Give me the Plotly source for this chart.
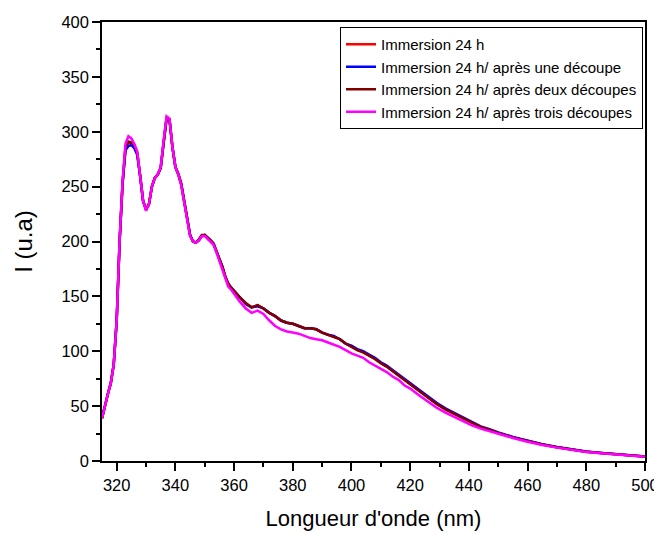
import plotly.graph_objects as go

wavelength = [315, 316, 317, 318, 319, 320, 321, 322, 323, 324, 325, 326, 327, 328, 329,
              330, 331, 332, 333, 334, 335, 336, 337, 338, 339, 340, 341, 342, 343, 344,
              345, 346, 347, 348, 349, 350, 351, 352, 353, 354, 355, 356, 357, 358, 359,
              360, 362, 364, 366, 368, 370, 372, 374, 376, 378, 380, 382, 384, 386, 388,
              390, 392, 394, 396, 398, 400, 402, 404, 406, 408, 410, 412, 414, 416, 418,
              420, 423, 426, 429, 432, 435, 438, 441, 444, 447, 450, 455, 460, 465, 470,
              475, 480, 485, 490, 495, 500]

immersion_24h = [39, 51, 61, 71, 88, 128, 200, 253, 285, 290, 290, 287, 280, 260, 237,
                 229, 234, 250, 258, 261, 267, 290, 312, 311, 286, 268, 261, 252, 236, 222,
                 206, 200, 199, 201, 205, 206, 203, 201, 198, 191, 184, 177, 168, 161, 158,
                 155, 149, 143, 140, 142, 139, 135, 132, 128, 126, 125, 123, 121, 121, 120,
                 117, 115, 113, 111, 107, 104, 101, 99, 96, 93, 89, 86, 82, 78, 74,
                 70, 64, 58, 52, 47, 43, 39, 35, 31, 28.5, 25.5, 21.5, 18, 15, 12.5,
                 10.2, 8.5, 7.2, 6, 5, 4]

une_decoupe = [39, 51, 61, 71, 88, 128, 200, 252, 283, 287, 288, 285, 279, 259, 237,
               229, 234, 250, 258, 261, 267, 290, 312, 311, 286, 268, 261, 252, 236, 222,
               206, 200, 199, 201, 205, 206, 203, 201, 198, 191, 184, 177, 168, 161, 158,
               155, 149, 143, 140, 141, 139, 135, 132, 128, 126, 125, 123, 121, 121, 120,
               117, 115, 114, 111, 107, 105, 102, 100, 97, 94, 90, 87, 83, 79, 75,
               71, 65, 59, 53, 48, 44, 39.5, 35.5, 31.5, 29, 26, 22, 18.3, 15.2, 12.7,
               10.4, 8.6, 7.3, 6.1, 5, 4]

deux_decoupes = [39, 51, 61, 71, 88, 128, 200, 253, 286, 291, 290, 288, 281, 260, 237,
                 229, 234, 250, 258, 261, 267, 290, 312, 311, 286, 268, 262, 253, 237, 222,
                 206, 200, 199, 202, 206, 206, 203, 201, 198, 191, 184, 177, 168, 162, 158,
                 155, 149, 144, 140, 142, 139, 135, 132, 128, 126, 125, 123, 121, 121, 120,
                 117, 115, 113, 111, 107, 104, 101, 99, 96, 93, 89, 86, 82, 78, 74,
                 70, 64, 58, 52, 47, 43, 39, 35, 31, 28.5, 25.5, 21.5, 18, 15, 12.5,
                 10.2, 8.5, 7.2, 6, 5, 4]

trois_decoupes = [39, 51, 61, 71, 88, 128, 201, 255, 289, 296, 294, 289, 282, 260, 237,
                  228, 234, 250, 258, 261, 268, 292, 314, 312, 286, 268, 261, 251, 235, 221,
                  205, 200, 199, 201, 205, 205, 202, 200, 197, 190, 182, 175, 165, 159, 156,
                  152, 145, 139, 135, 137, 134, 128, 123, 120, 118, 117, 116, 114, 112, 111,
                  110, 108, 106, 104, 101, 98, 96, 94, 90, 87, 84, 81, 77, 74, 69,
                  66, 60, 54, 48.5, 44, 40, 36, 32.5, 29.5, 27, 24.5, 21, 17.5, 14.5, 12.2,
                  10, 8.2, 7, 5.8, 4.8, 3.8]

series_names = ["Immersion 24 h",
                "Immersion 24 h/ après une découpe",
                "Immersion 24 h/ après deux découpes",
                "Immersion 24 h/ après trois découpes"]
series_values = [immersion_24h, une_decoupe, deux_decoupes, trois_decoupes]
series_colors = ["#FF0000", "#0000FF", "#800000", "#FF00FF"]

fig = go.Figure()
for name, vals, col in zip(series_names, series_values, series_colors):
    fig.add_trace(go.Scatter(x=wavelength, y=vals, mode="lines", name=name,
                             line=dict(color=col, width=2.5)))

font_family = "Liberation Sans, Arial, sans-serif"
fig.update_layout(
    width=654, height=526,
    margin=dict(l=94, r=17, t=14, b=73, autoexpand=False),
    paper_bgcolor="white", plot_bgcolor="white",
    font=dict(family=font_family, color="black", size=16),
    showlegend=True,
    legend=dict(x=0.9963, y=0.9886, xanchor="right", yanchor="top",
                bgcolor="white", bordercolor="black", borderwidth=1,
                font=dict(size=15, family=font_family), tracegroupgap=0,
                itemwidth=30),
)
fig.update_xaxes(
    range=[315, 500], dtick=20, tick0=320,
    showline=True, linecolor="black", linewidth=1.5, mirror=True,
    ticks="outside", ticklen=8, tickwidth=1.5, tickcolor="black",
    minor=dict(dtick=10, ticks="outside", ticklen=4, tickwidth=1.5, tickcolor="black"),
    showgrid=False, zeroline=False,
    tickfont=dict(size=16.5),
    title=dict(text="Longueur d'onde (nm)", font=dict(size=22), standoff=18),
)
fig.update_yaxes(
    range=[0, 400], dtick=50,
    showline=True, linecolor="black", linewidth=1.5, mirror=True,
    ticks="outside", ticklen=8, tickwidth=1.5, tickcolor="black",
    minor=dict(dtick=25, ticks="outside", ticklen=4, tickwidth=1.5, tickcolor="black"),
    showgrid=False, zeroline=False,
    tickfont=dict(size=16.5),
    title=dict(text="I (u.a)", font=dict(size=24), standoff=22),
)

fig.write_html("out.html")
